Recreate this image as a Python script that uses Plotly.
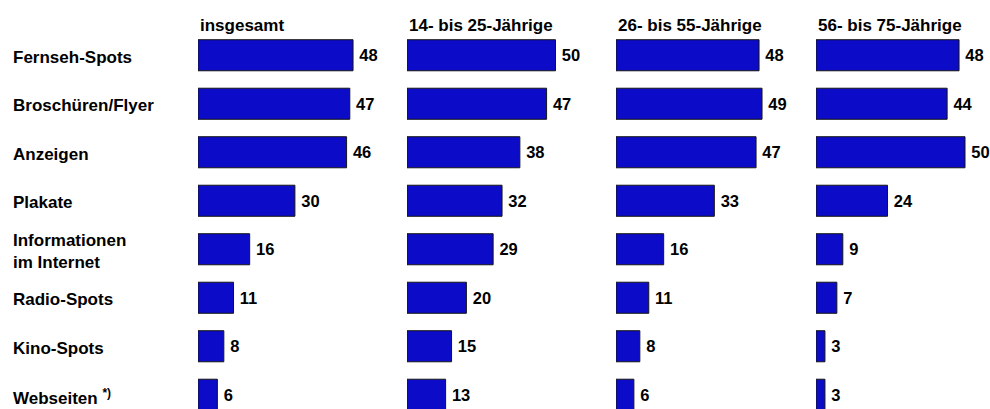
import plotly.graph_objects as go

W, H = 990, 409

categories = ["Fernseh-Spots", "Broschüren/Flyer", "Anzeigen", "Plakate",
              "Informationen<br>im Internet", "Radio-Spots", "Kino-Spots",
              "Webseiten <sup>*)</sup>"]

groups = ["insgesamt", "14- bis 25-Jährige", "26- bis 55-Jährige", "56- bis 75-Jährige"]

insgesamt = [48, 47, 46, 30, 16, 11, 8, 6]
age_14_25 = [50, 47, 38, 32, 29, 20, 15, 13]
age_26_55 = [48, 49, 47, 33, 16, 11, 8, 6]
age_56_75 = [48, 44, 50, 24, 9, 7, 3, 3]

series = [insgesamt, age_14_25, age_26_55, age_56_75]

# panel left edge (px) and px per unit
panel_x0 = [198, 407, 616, 816]
panel_scale = [3.23, 2.97, 2.98, 2.98]
panel_xmax = [60, 60, 58, 56]
title_shift = [0, -0.5, -0.5, -0.5]

bar_color = "#0B0BC8"
font_family = "Liberation Sans, Arial, sans-serif"
y_top = 31  # where the category band starts
row_px = 48.5


def px(x):
    return x / W


fig = go.Figure()
layout = dict(
    width=W, height=H,
    margin=dict(l=0, r=0, t=0, b=0),
    paper_bgcolor="white", plot_bgcolor="white",
    showlegend=False,
    font=dict(family=font_family, size=16, color="black"),
)

ids = list(range(len(categories)))
n_rows = (H - y_top) / row_px
annotations = []
for i, vals in enumerate(series):
    xa = "x" if i == 0 else "x%d" % (i + 1)
    ya = "y" if i == 0 else "y%d" % (i + 1)
    fig.add_trace(go.Bar(
        x=vals, y=ids, orientation="h",
        xaxis=xa, yaxis=ya,
        marker=dict(color=bar_color, line=dict(color="#151515", width=1)),
        text=["<b>\u2009%d</b>" % v for v in vals],
        textposition="outside", cliponaxis=False,
        textfont=dict(size=16.5, color="black", family=font_family),
        width=0.64,
    ))
    x0 = panel_x0[i]
    x1 = x0 + panel_scale[i] * panel_xmax[i]
    key = "" if i == 0 else str(i + 1)
    layout["xaxis" + key] = dict(domain=[px(x0), min(px(x1), 1.0)], range=[0, panel_xmax[i]],
                                 visible=False, fixedrange=True)
    layout["yaxis" + key] = dict(domain=[0, 1 - y_top / H], range=[n_rows - 0.5, -0.5],
                                 visible=False, anchor=xa, fixedrange=True)
    annotations.append(dict(
        text="<b>%s</b>" % groups[i], xref="paper", yref="paper",
        x=px(x0 + title_shift[i]), y=1 - 25 / H,
        xanchor="left", yanchor="middle", showarrow=False,
        font=dict(size=17, family=font_family),
    ))

for j, cat in enumerate(categories):
    annotations.append(dict(
        text="<b>%s</b>" % cat, xref="paper", yref="y",
        x=px(10.5), y=j + 0.04, xanchor="left", yanchor="middle", align="left",
        showarrow=False, font=dict(size=17, family=font_family),
    ))

layout["annotations"] = annotations
fig.update_layout(**layout)
fig.write_html("out.html", config={"displayModeBar": False},
               post_script="document.body.style.margin='0';document.body.style.overflow='hidden';")
